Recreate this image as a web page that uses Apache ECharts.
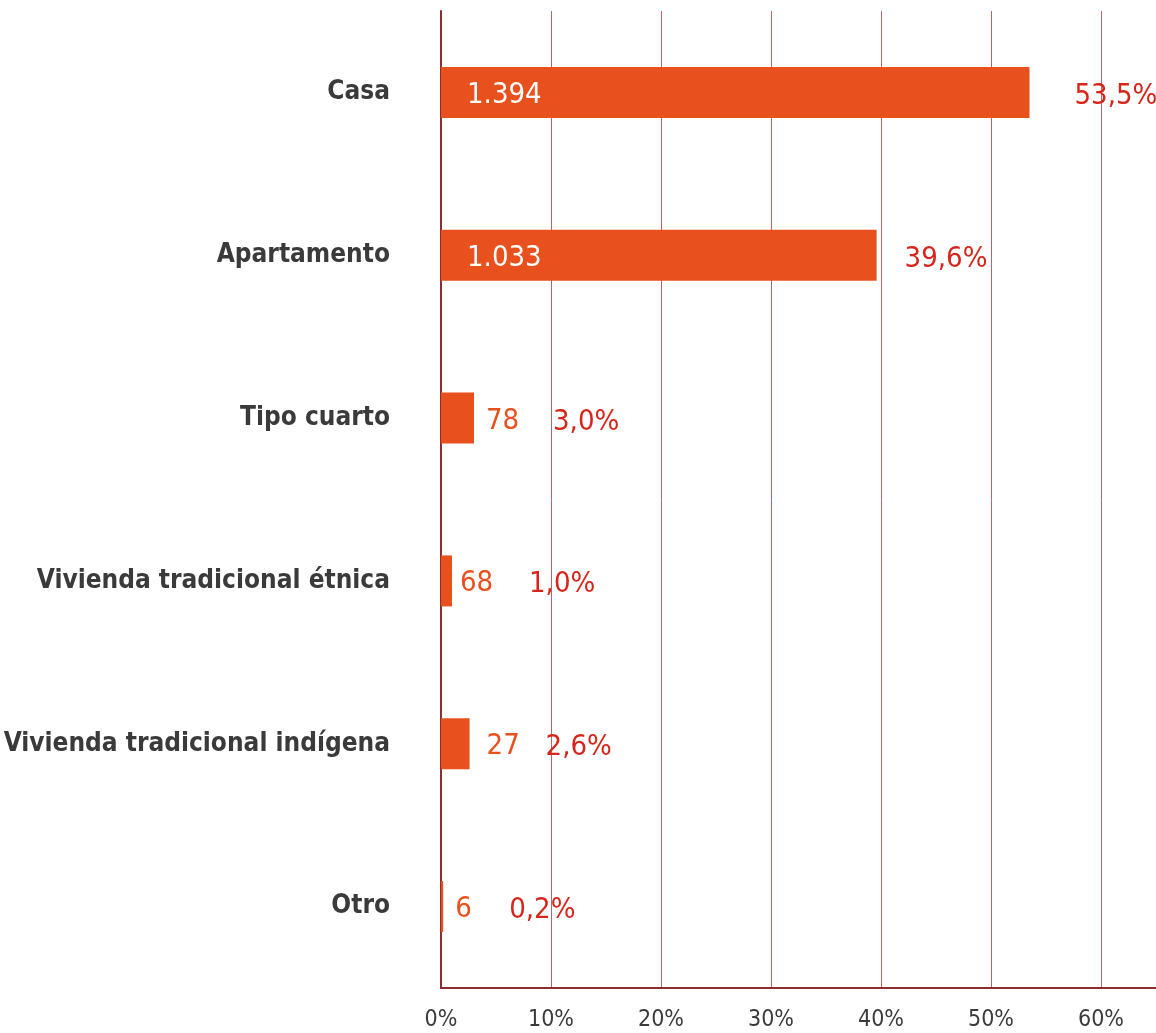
<!DOCTYPE html>
<html>
<head>
<meta charset="utf-8">
<script src="https://cdn.jsdelivr.net/npm/echarts@6/dist/echarts.min.js"></script>
<style>
  html, body { margin: 0; padding: 0; background: #ffffff; }
  #chart { width: 1156px; height: 1033px; }
</style>
</head>
<body>
<div id="chart"></div>
<script>
// Tipos de vivienda: número de hogares y participación porcentual
const categories = ['Casa', 'Apartamento', 'Tipo cuarto', 'Vivienda tradicional étnica', 'Vivienda tradicional indígena', 'Otro'];
const counts = [1394, 1033, 78, 68, 27, 6];
const shares = [53.5, 39.6, 3.0, 1.0, 2.6, 0.2];
const xTicks = [0, 10, 20, 30, 40, 50, 60];

// Label placement (styling only)
const countInside = [true, true, false, false, false, false];
const countGap = [26, 26, 12, 8, 17, 12];
const shareGap = [45, 28, 79, 77, 76, 66];

const FONT = "'DejaVu Sans Condensed', 'Liberation Sans Narrow', sans-serif";
const BAR = '#E8501D';
const RED = '#D6261B';
const GRID = '#B0474E';
const AXIS = '#8B2E2E';

const fmtCount = v => String(v).replace(/\B(?=(\d{3})+(?!\d))/g, '.');
const fmtShare = v => v.toFixed(1).replace('.', ',') + '%';

const countSeries = shares.map((v, i) => ({
  value: v,
  label: countInside[i]
    ? { position: 'insideLeft', distance: countGap[i], color: '#ffffff', offset: [0, 3] }
    : { position: 'right', distance: countGap[i], color: BAR, offset: [0, 3] },
  count: counts[i]
}));

const shareSeries = shares.map((v, i) => ({
  value: v,
  label: { position: 'right', distance: shareGap[i], offset: [0, 4] }
}));

const chart = echarts.init(document.getElementById('chart'), null, { renderer: 'canvas' });
chart.setOption({
  animation: false,
  backgroundColor: '#ffffff',
  grid: { left: 441, right: 0, top: 11, bottom: 45, containLabel: false, outerBoundsMode: 'none' },
  xAxis: {
    type: 'value',
    min: 0,
    max: 65,
    interval: 10,
    axisLine: { show: true, lineStyle: { color: AXIS, width: 2 } },
    axisTick: { show: false },
    splitLine: { show: true, lineStyle: { color: GRID, width: 1, opacity: 0.85 } },
    axisLabel: {
      showMaxLabel: false,
      margin: 21,
      color: '#3b3b3b',
      fontFamily: FONT,
      fontSize: 23,
      formatter: v => (xTicks.indexOf(v) >= 0 ? v + '%' : '')
    }
  },
  yAxis: {
    type: 'category',
    inverse: true,
    data: categories,
    axisLine: { show: true, lineStyle: { color: AXIS, width: 2 } },
    axisTick: { show: false },
    axisLabel: {
      margin: 51,
      color: '#3a3a3a',
      fontFamily: FONT,
      fontWeight: 'bold',
      fontSize: 26
    }
  },
  series: [
    {
      type: 'bar',
      data: countSeries,
      barWidth: 51,
      itemStyle: { color: BAR },
      z: 2,
      label: {
        show: true,
        fontFamily: FONT,
        fontSize: 29,
        formatter: p => fmtCount(p.data.count)
      }
    },
    {
      type: 'bar',
      data: shareSeries,
      barWidth: 51,
      barGap: '-100%',
      itemStyle: { color: 'rgba(0,0,0,0)' },
      z: 3,
      label: {
        show: true,
        color: RED,
        fontFamily: FONT,
        fontSize: 29,
        formatter: p => fmtShare(p.value)
      }
    }
  ]
});
</script>
</body>
</html>
